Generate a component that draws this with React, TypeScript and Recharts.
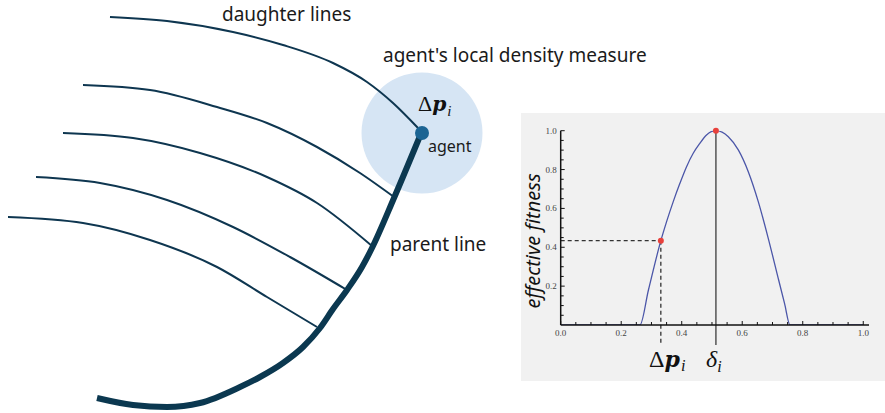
import React from 'react'
import {
  LineChart,
  Line,
  XAxis,
  YAxis,
  Scatter,
  ComposedChart,
  ReferenceDot,
  ReferenceLine,
} from 'recharts'

// left sketch: lines, in page pixels (y grows downward)
const daughterA = [[110, 17], [167, 21], [233, 32], [283, 45], [333, 63], [367, 82], [393, 103], [418, 128]]
const daughterB = [[83, 85], [150, 90], [217, 107], [267, 123], [317, 147], [360, 173], [394, 197]]
const daughterC = [[63, 133], [133, 138], [200, 153], [267, 177], [317, 203], [372, 246]]
const daughterD = [[36, 177], [100, 183], [167, 200], [233, 227], [290, 257], [347, 290]]
const daughterE = [[8, 217], [83, 223], [150, 240], [217, 267], [267, 297], [317, 327]]
const parentLine = [[97, 398], [133, 405], [167, 407], [200, 403], [240, 387], [260, 377], [283, 363], [303, 347], [320, 328], [333, 309], [347, 290], [362, 267], [372, 248], [394, 198], [420, 136]]
const densityCircle = [[422, 133]]
const agentPos = [[422, 133]]

// right chart: effective fitness vs Δp
const fitX = [0, 0.262, 0.29, 0.331, 0.35, 0.372, 0.394, 0.416, 0.438, 0.46, 0.482, 0.513, 0.554, 0.587, 0.62, 0.653, 0.686, 0.719, 0.74, 0.758, 1.0]
const fitY = [0, 0, 0.18, 0.434, 0.532, 0.635, 0.729, 0.815, 0.884, 0.935, 0.978, 1.0, 0.969, 0.901, 0.789, 0.635, 0.446, 0.24, 0.11, 0, 0]
const xTicks = [0, 0.05, 0.1, 0.15, 0.2, 0.25, 0.3, 0.35, 0.4, 0.45, 0.5, 0.55, 0.6, 0.65, 0.7, 0.75, 0.8, 0.85, 0.9, 0.95, 1.0]
const yTicks = [0.05, 0.1, 0.15, 0.2, 0.25, 0.3, 0.35, 0.4, 0.45, 0.5, 0.55, 0.6, 0.65, 0.7, 0.75, 0.8, 0.85, 0.9, 0.95, 1.0]
const deltaP = 0.331
const deltaPFit = 0.434
const deltaI = 0.513

const sketchLines = [daughterA, daughterB, daughterC, daughterD, daughterE, parentLine]
const sketchData = sketchLines
  .flatMap((pts, i) => pts.map(([x, y]) => ({ x, [`s${i}`]: y })))
  .sort((a, b) => a.x - b.x)
const toPts = (arr: number[][]) => arr.map(([x, y]) => ({ x, y }))
const fitData = fitX.map((x, i) => ({ x, y: fitY[i] }))

const isMajor = (v: number) => Math.abs(v * 5 - Math.round(v * 5)) < 1e-6
const tickFont = { fontFamily: '"Liberation Serif", serif', fontSize: 9, fill: '#444' }

function XTick(props: any) {
  const { x, y, payload } = props
  const v = payload.value
  return (
    <g>
      <line x1={x} x2={x} y1={y} y2={y - (isMajor(v) ? 4 : 3)} stroke="#111" strokeWidth={1} />
      {isMajor(v) && (
        <text x={x} y={y + 11} textAnchor="middle" {...tickFont}>
          {v.toFixed(1)}
        </text>
      )}
    </g>
  )
}

function YTick(props: any) {
  const { x, y, payload } = props
  const v = payload.value
  return (
    <g>
      <line x1={x} x2={x + (isMajor(v) ? 4 : 3)} y1={y} y2={y} stroke="#111" strokeWidth={1} />
      {isMajor(v) && (
        <text x={x - 4} y={y + 3} textAnchor="end" {...tickFont}>
          {v.toFixed(1)}
        </text>
      )}
    </g>
  )
}

const bigCircle = (p: any) => <circle cx={p.cx} cy={p.cy} r={60.5} fill="#d6e5f4" />
const agentDot = (p: any) => <circle cx={p.cx} cy={p.cy} r={7} fill="#1b6493" />

const sans = '"Noto Sans", sans-serif'
const serif = '"Liberation Serif", serif'

function MathP({ size }: { size: number }) {
  return (
    <span style={{ fontFamily: serif, fontSize: size, lineHeight: 1, whiteSpace: 'nowrap', color: '#111' }}>
      Δ
      <b style={{ fontStyle: 'italic', fontFamily: '"DejaVu Serif", serif', fontSize: size * 0.92 }}>p</b>
      <i style={{ fontSize: size * 0.68, position: 'relative', top: size * 0.2, marginLeft: 1 }}>i</i>
    </span>
  )
}

export default function App() {
  const label = (left: number, top: number, size: number, text: string) => (
    <div style={{ position: 'absolute', left, top, fontFamily: sans, fontSize: size, lineHeight: 1, color: '#1a1a1a', whiteSpace: 'nowrap' }}>
      {text}
    </div>
  )
  const layer = { position: 'absolute' as const, left: 0, top: 0 }
  const margin = { top: 0, right: 0, bottom: 0, left: 0 }

  return (
    <div style={{ position: 'absolute', left: 0, top: 0, width: 885, height: 413, background: '#fff', overflow: 'hidden' }}>
      {/* left sketch: density circle underneath */}
      <div style={layer}>
        <ComposedChart width={500} height={413} margin={margin}>
          <XAxis type="number" dataKey="x" domain={[0, 500]} hide allowDataOverflow />
          <YAxis type="number" dataKey="y" domain={[0, 413]} reversed hide allowDataOverflow />
          <Scatter data={toPts(densityCircle)} shape={bigCircle} isAnimationActive={false} />
        </ComposedChart>
      </div>
      {/* lines and the agent on top */}
      <div style={layer}>
        <ComposedChart width={500} height={413} data={sketchData} margin={margin}>
          <XAxis type="number" dataKey="x" domain={[0, 500]} hide allowDataOverflow />
          <YAxis type="number" domain={[0, 413]} reversed hide allowDataOverflow />
          {sketchLines.map((_, i) => (
            <Line
              key={i}
              dataKey={`s${i}`}
              type="monotone"
              stroke={i === 5 ? '#0b3850' : '#0e3650'}
              strokeWidth={i === 5 ? 6 : 2}
              connectNulls
              dot={false}
              activeDot={false}
              isAnimationActive={false}
            />
          ))}
          <Scatter data={toPts(agentPos)} dataKey="y" shape={agentDot} isAnimationActive={false} />
        </ComposedChart>
      </div>
      {label(222, 4.8, 19, 'daughter lines')}
      {label(383, 45.8, 19, "agent's local density measure")}
      {label(390, 234.8, 19, 'parent line')}
      {label(428, 137.5, 16, 'agent')}
      <div style={{ position: 'absolute', left: 418, top: 93.3 }}>
        <MathP size={22} />
      </div>

      {/* right chart */}
      <div style={{ position: 'absolute', left: 521, top: 113, width: 364, height: 268, background: '#f1f1f1' }}>
        <LineChart width={364} height={268} data={fitData} margin={{ top: 17.7, right: 16, bottom: 36, left: 9.7 }}>
          <XAxis
            type="number"
            dataKey="x"
            domain={[0, 1.019]}
            ticks={xTicks}
            interval={0}
            tick={<XTick />}
            tickSize={0}
            tickMargin={0}
            height={20}
            axisLine={{ stroke: '#111', strokeWidth: 1.5 }}
            allowDataOverflow
          />
          <YAxis
            type="number"
            domain={[0, 1]}
            ticks={yTicks}
            interval={0}
            tick={<YTick />}
            tickSize={0}
            tickMargin={0}
            width={30}
            axisLine={{ stroke: '#111', strokeWidth: 1.5 }}
            allowDataOverflow
          />
          <ReferenceLine
            segment={[{ x: 0, y: deltaPFit }, { x: deltaP, y: deltaPFit }]}
            stroke="#333"
            strokeDasharray="4 3"
            strokeWidth={1.2}
            ifOverflow="visible"
          />
          <ReferenceLine
            segment={[{ x: deltaP, y: deltaPFit }, { x: deltaP, y: -0.093 }]}
            stroke="#222"
            strokeDasharray="4 3"
            strokeWidth={1.2}
            ifOverflow="visible"
          />
          <ReferenceLine
            segment={[{ x: deltaI, y: 1 }, { x: deltaI, y: -0.103 }]}
            stroke="#555"
            strokeWidth={1.5}
            ifOverflow="visible"
          />
          <Line dataKey="y" type="monotone" stroke="#4b56a8" strokeWidth={1.3} dot={false} activeDot={false} isAnimationActive={false} />
          <ReferenceDot x={deltaP} y={deltaPFit} r={3} fill="#e8413c" stroke="none" ifOverflow="visible" />
          <ReferenceDot x={deltaI} y={1} r={3} fill="#e8413c" stroke="none" ifOverflow="visible" />
        </LineChart>
      </div>
      <div
        style={{
          position: 'absolute',
          left: 433,
          top: 231.3,
          width: 200,
          height: 20,
          lineHeight: '20px',
          textAlign: 'center',
          transform: 'rotate(-90deg)',
          fontFamily: sans,
          fontStyle: 'italic',
          fontSize: 20,
          color: '#111',
        }}
      >
        effective fitness
      </div>
      <div style={{ position: 'absolute', left: 649, top: 346.6 }}>
        <MathP size={24} />
      </div>
      <div style={{ position: 'absolute', left: 706, top: 346.6, fontFamily: serif, fontSize: 24, lineHeight: 1, color: '#111' }}>
        <i>δ</i>
        <i style={{ fontSize: 16, position: 'relative', top: 5 }}>i</i>
      </div>
    </div>
  )
}
